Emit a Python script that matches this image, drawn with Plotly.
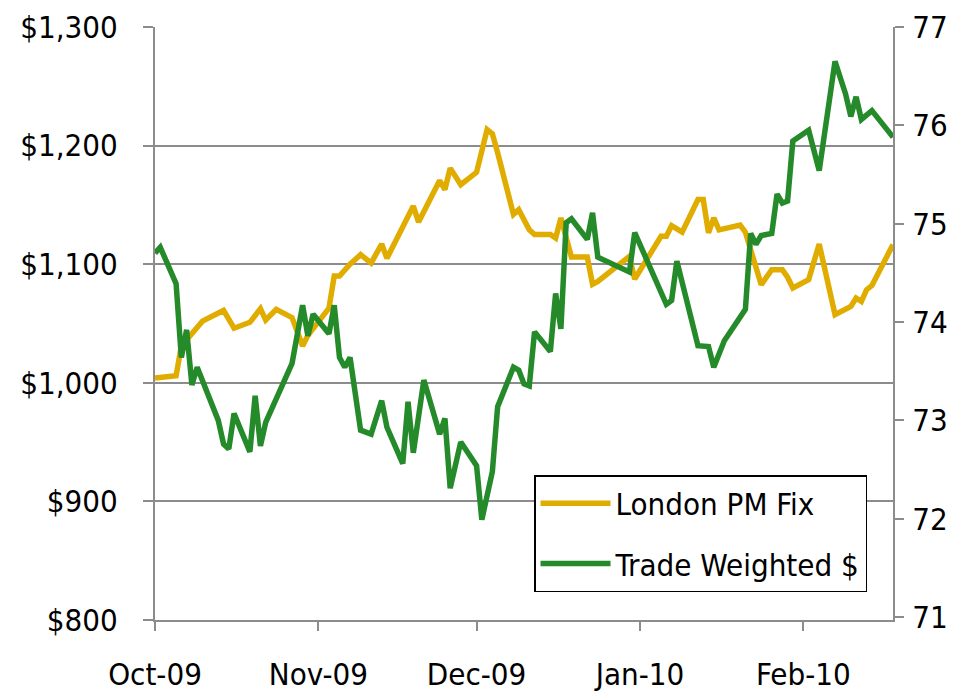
import plotly.graph_objects as go

# ---- data ----
gold_dates = [
    "2009-10-01", "2009-10-05", "2009-10-06", "2009-10-08", "2009-10-10", "2009-10-14",
    "2009-10-16", "2009-10-19", "2009-10-21", "2009-10-22", "2009-10-24", "2009-10-27",
    "2009-10-29", "2009-10-30", "2009-11-03", "2009-11-04", "2009-11-05", "2009-11-07",
    "2009-11-09", "2009-11-11", "2009-11-13", "2009-11-14", "2009-11-17", "2009-11-19",
    "2009-11-20", "2009-11-24", "2009-11-25", "2009-11-26", "2009-11-28", "2009-12-01",
    "2009-12-03", "2009-12-04", "2009-12-05", "2009-12-08", "2009-12-09", "2009-12-11",
    "2009-12-12", "2009-12-15", "2009-12-16", "2009-12-17", "2009-12-19", "2009-12-22",
    "2009-12-23", "2009-12-24", "2009-12-30", "2009-12-31", "2010-01-05", "2010-01-06",
    "2010-01-07", "2010-01-09", "2010-01-12", "2010-01-13", "2010-01-14", "2010-01-15",
    "2010-01-16", "2010-01-20", "2010-01-21", "2010-01-24", "2010-01-26", "2010-01-28",
    "2010-01-29", "2010-01-30", "2010-02-02", "2010-02-04", "2010-02-07", "2010-02-10",
    "2010-02-11", "2010-02-12", "2010-02-13", "2010-02-14", "2010-02-18",
]
gold_values = [
    1004, 1006, 1031, 1042, 1052, 1061,
    1046, 1051, 1062.5, 1053, 1062, 1055,
    1031, 1040, 1063, 1090, 1090, 1100,
    1108, 1101, 1117, 1105, 1132, 1149,
    1135.5, 1170.5, 1163, 1181, 1167, 1177.5,
    1213.5, 1210, 1194, 1142, 1146, 1129,
    1125, 1125, 1122, 1139, 1106, 1106,
    1083, 1085.5, 1106.6, 1087.5, 1123.5, 1123.5,
    1132.5, 1127, 1154.5, 1154.5, 1126.5, 1139,
    1129, 1133, 1127, 1082.7, 1095.4, 1095.4,
    1089, 1080, 1087, 1117, 1057.4, 1064.4,
    1071.5, 1068.6, 1078.5, 1082, 1116.5,
]

twd_dates = [
    "2009-10-01", "2009-10-02", "2009-10-05", "2009-10-06", "2009-10-07", "2009-10-08",
    "2009-10-09", "2009-10-13", "2009-10-14", "2009-10-15", "2009-10-16", "2009-10-19",
    "2009-10-20", "2009-10-21", "2009-10-22", "2009-10-27", "2009-10-29", "2009-10-30",
    "2009-10-31", "2009-11-03", "2009-11-04", "2009-11-05", "2009-11-06", "2009-11-07",
    "2009-11-09", "2009-11-11", "2009-11-13", "2009-11-14", "2009-11-17", "2009-11-18",
    "2009-11-19", "2009-11-21", "2009-11-24", "2009-11-25", "2009-11-26", "2009-11-28",
    "2009-12-01", "2009-12-02", "2009-12-04", "2009-12-05", "2009-12-08", "2009-12-09",
    "2009-12-10", "2009-12-11", "2009-12-12", "2009-12-15", "2009-12-16", "2009-12-17",
    "2009-12-18", "2009-12-19", "2009-12-22", "2009-12-23", "2009-12-24", "2009-12-30",
    "2009-12-31", "2010-01-06", "2010-01-07", "2010-01-08", "2010-01-12", "2010-01-14",
    "2010-01-15", "2010-01-17", "2010-01-21", "2010-01-22", "2010-01-23", "2010-01-24",
    "2010-01-26", "2010-01-27", "2010-01-28", "2010-01-29", "2010-01-30", "2010-02-02",
    "2010-02-04", "2010-02-07", "2010-02-09", "2010-02-10", "2010-02-11", "2010-02-12",
    "2010-02-14", "2010-02-18",
]
twd_values = [
    74.70, 74.76, 74.39, 73.64, 73.92, 73.36,
    73.54, 73.00, 72.76, 72.71, 73.07, 72.68,
    73.25, 72.74, 72.98, 73.58, 74.17, 73.86,
    74.08, 73.88, 74.17, 73.64, 73.54, 73.64,
    72.90, 72.86, 73.20, 72.93, 72.56, 73.19,
    72.67, 73.41, 72.86, 73.02, 72.31, 72.78,
    72.54, 71.99, 72.48, 73.14, 73.54, 73.51,
    73.37, 73.35, 73.90, 73.70, 74.29, 73.93,
    75.01, 75.05, 74.84, 75.11, 74.66, 74.51,
    74.91, 74.18, 74.22, 74.62, 73.76, 73.75,
    73.54, 73.81, 74.13, 74.90, 74.79, 74.88,
    74.90, 75.30, 75.21, 75.23, 75.84, 75.95,
    75.54, 76.65, 76.32, 76.09, 76.29, 76.06,
    76.15, 75.88,
]

x_tick_dates = ["2009-10-01", "2009-11-01", "2009-12-01", "2010-01-01", "2010-02-01"]
x_tick_labels = ["Oct-09", "Nov-09", "Dec-09", "Jan-10", "Feb-10"]
left_ticks = [800, 900, 1000, 1100, 1200, 1300]
left_tick_labels = ["$800", "$900", "$1,000", "$1,100", "$1,200", "$1,300"]
grid_ticks = [900, 1000, 1100, 1200]
right_ticks = [71, 72, 73, 74, 75, 76, 77]

GOLD = "#E0AC00"
GREEN = "#258A2A"
AXIS = "#8C8C8C"
FONT = "DejaVu Sans Condensed, Liberation Sans Narrow, sans-serif"
FS = 31

fig = go.Figure()
fig.add_trace(go.Scatter(
    x=gold_dates, y=gold_values, name="London PM Fix", mode="lines",
    line=dict(color=GOLD, width=5.5), yaxis="y", legendgroup="a",
))
fig.add_trace(go.Scatter(
    x=twd_dates, y=twd_values, name="Trade Weighted $", mode="lines",
    line=dict(color=GREEN, width=5.5), yaxis="y2", legendgroup="b",
))

# the page body adds an 8px offset, so the figure is sized/margined to compensate
fig.update_layout(
    width=952, height=687,
    margin=dict(l=147, r=67, t=19, b=75),
    paper_bgcolor="white", plot_bgcolor="white",
    font=dict(family=FONT, size=FS, color="black"),
    showlegend=True,
    legend=dict(
        x=0.5136, y=0.2445, xanchor="left", yanchor="top",
        bgcolor="white", bordercolor="black", borderwidth=1.5,
        font=dict(family=FONT, size=FS, color="black"),
        traceorder="grouped", tracegroupgap=17, itemwidth=70,
        entrywidth=340, entrywidthmode="pixels",
    ),
    xaxis=dict(
        type="date", range=["2009-10-01", "2010-02-18"],
        tickvals=x_tick_dates, ticktext=x_tick_labels,
        showgrid=False, zeroline=False, automargin=False,
        showline=True, linecolor=AXIS, linewidth=2,
        ticks="outside", ticklen=9, tickwidth=1.5, tickcolor=AXIS,
        ticklabelstandoff=17,
    ),
    yaxis=dict(
        range=[800, 1300], tickvals=left_ticks, ticktext=left_tick_labels,
        showgrid=False, zeroline=False, automargin=False,
        showline=True, linecolor=AXIS, linewidth=2,
        ticks="outside", ticklen=10, tickwidth=1.5, tickcolor=AXIS,
        ticklabelstandoff=19,
        minor=dict(tickvals=grid_ticks, showgrid=True, gridcolor=AXIS, gridwidth=2, ticks=""),
    ),
    yaxis2=dict(
        overlaying="y", side="right", range=[70.97, 77.0],
        tickvals=right_ticks, showgrid=False, zeroline=False, automargin=False,
        showline=True, linecolor=AXIS, linewidth=2,
        ticks="outside", ticklen=9, tickwidth=1.5, tickcolor=AXIS,
        ticklabelstandoff=2,
    ),
)

fig.write_html("out.html")
